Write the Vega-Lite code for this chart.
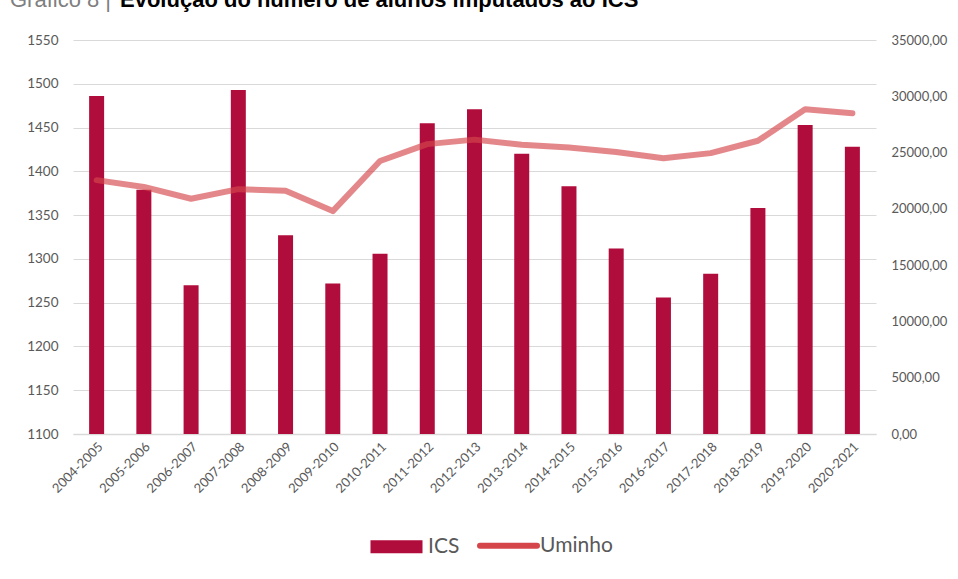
{
  "$schema": "https://vega.github.io/schema/vega-lite/v6.json",
  "autosize": {"type": "none"},
  "width": 803,
  "height": 394,
  "padding": {"left": 73, "top": 40, "right": 82, "bottom": 145},
  "background": "white",
  "title": {
    "text": "Gráfico 8 |",
    "subtitle": "\u200b\u00a0\u00a0\u00a0\u00a0\u00a0\u00a0\u00a0\u00a0\u00a0\u00a0\u00a0\u00a0\u00a0\u00a0\u00a0\u00a0\u00a0\u00a0Evolução do número de alunos imputados ao ICS",
    "anchor": "start",
    "frame": "group",
    "dx": -63,
    "offset": 21,
    "font": "Liberation Sans",
    "fontSize": 22,
    "fontWeight": "normal",
    "color": "#7f7f7f",
    "subtitleFont": "Liberation Sans",
    "subtitleFontSize": 22,
    "subtitleFontWeight": "bold",
    "subtitleColor": "#000000",
    "subtitlePadding": -22
  },
  "data": {
    "values": [
      {"ano": "2004-2005", "ics": 1486, "uminho": 22550},
      {"ano": "2005-2006", "ics": 1379, "uminho": 21950},
      {"ano": "2006-2007", "ics": 1270, "uminho": 20900},
      {"ano": "2007-2008", "ics": 1493, "uminho": 21750},
      {"ano": "2008-2009", "ics": 1327, "uminho": 21600},
      {"ano": "2009-2010", "ics": 1272, "uminho": 19800},
      {"ano": "2010-2011", "ics": 1306, "uminho": 24250},
      {"ano": "2011-2012", "ics": 1455, "uminho": 25750},
      {"ano": "2012-2013", "ics": 1471, "uminho": 26150},
      {"ano": "2013-2014", "ics": 1420, "uminho": 25700},
      {"ano": "2014-2015", "ics": 1383, "uminho": 25450},
      {"ano": "2015-2016", "ics": 1312, "uminho": 25050},
      {"ano": "2016-2017", "ics": 1256, "uminho": 24500},
      {"ano": "2017-2018", "ics": 1283, "uminho": 24950},
      {"ano": "2018-2019", "ics": 1358, "uminho": 26050},
      {"ano": "2019-2020", "ics": 1453, "uminho": 28850},
      {"ano": "2020-2021", "ics": 1428, "uminho": 28500}
    ]
  },
  "config": {
    "view": {"stroke": null},
    "font": "Lato"
  },
  "encoding": {
    "x": {
      "field": "ano",
      "type": "nominal",
      "sort": null,
      "scale": {"paddingInner": 0, "paddingOuter": 0},
      "axis": {
        "title": null,
        "labelAngle": -45,
        "labelFont": "Lato",
        "labelFontSize": 13,
        "labelColor": "#595959",
        "labelPadding": 6,
        "ticks": false,
        "domain": true,
        "domainColor": "#d9d9d9",
        "domainWidth": 1.5,
        "grid": false
      }
    }
  },
  "layer": [
    {
      "mark": {"type": "bar", "width": 15},
      "encoding": {
        "y": {
          "field": "ics",
          "type": "quantitative",
          "scale": {"domain": [1100, 1550], "zero": false, "nice": false},
          "axis": {
            "title": null,
            "format": "d",
            "values": [1100, 1150, 1200, 1250, 1300, 1350, 1400, 1450, 1500, 1550],
            "grid": true,
            "gridColor": "#d9d9d9",
            "gridWidth": 1.2,
            "domain": false,
            "ticks": false,
            "labelPadding": 15,
            "labelFont": "Lato",
            "labelFontSize": 13.5,
            "labelColor": "#595959"
          }
        },
        "y2": {"datum": 1100},
        "color": {
          "datum": "ICS",
          "type": "nominal",
          "scale": {"domain": ["ICS", "Uminho"], "range": ["#b00d3c", "#d5464b"]},
          "legend": {
            "title": null,
            "orient": "none",
            "legendX": 313,
            "legendY": 495,
            "padding": 0,
            "direction": "horizontal",
            "symbolSize": 3249,
            "labelFont": "Lato",
            "labelFontSize": 21,
            "labelColor": "#595959",
            "labelOffset": 21,
            "columnPadding": 8,
            "encode": {
              "symbols": {
                "update": {
                  "shape": {"signal": "datum.value === 'ICS' ? 'M-1,-0.25H1V0.25H-1Z' : 'stroke'"},
                  "size": {"signal": "datum.value === 'ICS' ? 2704 : 3249"},
                  "strokeWidth": {"signal": "datum.value === 'ICS' ? 0 : 6"},
                  "fill": {"signal": "datum.value === 'ICS' ? '#b00d3c' : 'transparent'"},
                  "stroke": {"signal": "datum.value === 'ICS' ? '#b00d3c' : '#e38a8a'"},
                  "strokeCap": {"value": "round"},
                  "opacity": {"value": 1}
                }
              }
            }
          }
        }
      }
    },
    {
      "mark": {"type": "line", "strokeWidth": 6, "opacity": 0.65, "strokeCap": "round", "strokeJoin": "round"},
      "encoding": {
        "y": {
          "field": "uminho",
          "type": "quantitative",
          "scale": {"domain": [0, 35000], "nice": false},
          "axis": {
            "orient": "right",
            "title": null,
            "values": [0, 5000, 10000, 15000, 20000, 25000, 30000, 35000],
            "labelExpr": "replace(format(datum.value, '.2f'), '.', ',')",
            "grid": false,
            "domain": false,
            "ticks": false,
            "labelPadding": 15,
            "labelFont": "Lato",
            "labelFontSize": 13,
            "labelColor": "#595959"
          }
        },
        "color": {"datum": "Uminho", "type": "nominal"}
      }
    }
  ],
  "resolve": {"scale": {"y": "independent"}}
}
